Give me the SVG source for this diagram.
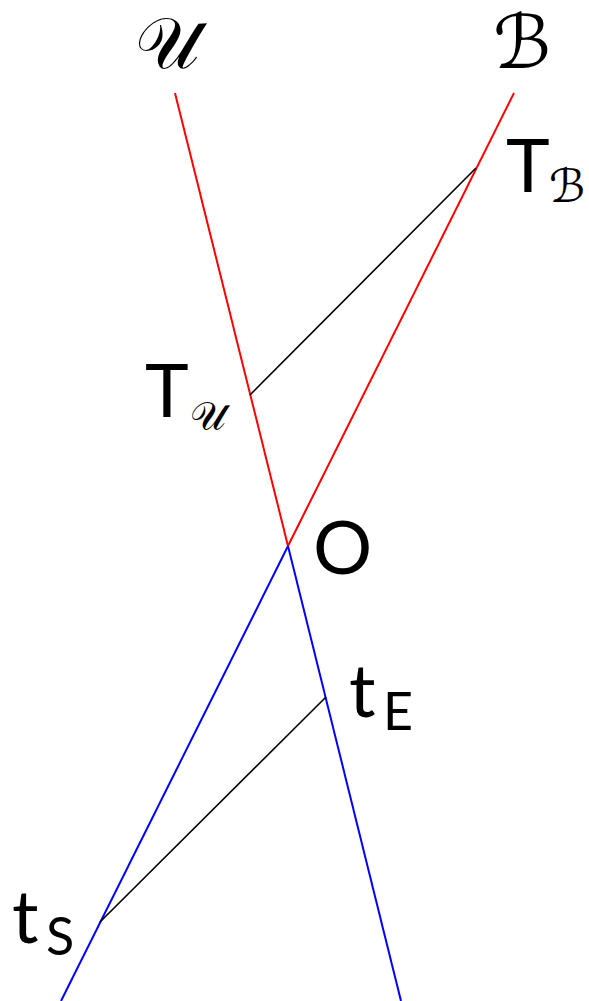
<svg xmlns="http://www.w3.org/2000/svg" width="589" height="1001" viewBox="0 0 589 1001">
<style>
.lbl{font-family:Lato,"Open Sans","Liberation Sans",sans-serif;font-size:74px;fill:#000}
.sub{font-family:Lato,"Open Sans","Liberation Sans",sans-serif;font-size:52px;fill:#000}
.cal{font-family:"DejaVu Serif","DejaVu Sans","Noto Sans",serif;font-style:normal;fill:#000}
.red{stroke:#ff0000;stroke-width:2;fill:none}
.blue{stroke:#0000ff;stroke-width:2;fill:none}
.blk{stroke:#000;stroke-width:1.6;fill:none}
</style>
<rect width="589" height="1001" fill="#fff"/>
<g id="connectors">
<line class="red" x1="175" y1="93" x2="288" y2="546"/>
<line class="red" x1="514" y1="93" x2="288" y2="546"/>
<line class="blue" x1="288" y1="546" x2="401" y2="1001"/>
<line class="blue" x1="288" y1="546" x2="61" y2="1001"/>
<line class="blk" x1="250" y1="395" x2="476" y2="168"/>
<line class="blk" x1="326" y1="697" x2="100" y2="922"/>
</g>
<g id="U"><text class="cal" x="135" y="68" font-size="72">𝒰</text></g>
<g id="B"><text class="cal" x="493" y="68" font-size="74">ℬ</text></g>
<g id="TB"><text class="lbl" x="506" y="192">T</text><text class="cal" x="549" y="202" font-size="46">ℬ</text></g>
<g id="TU"><text class="lbl" x="145" y="417">T</text><text class="cal" x="190" y="430" font-size="40">𝒰</text></g>
<g id="O"><text class="lbl" x="313" y="574">O</text></g>
<g id="tE"><text class="lbl" x="349" y="717">t</text><text class="sub" x="383" y="730">E</text></g>
<g id="tS"><text class="lbl" x="12" y="943">t</text><text class="sub" x="46" y="955">S</text></g>
</svg>
